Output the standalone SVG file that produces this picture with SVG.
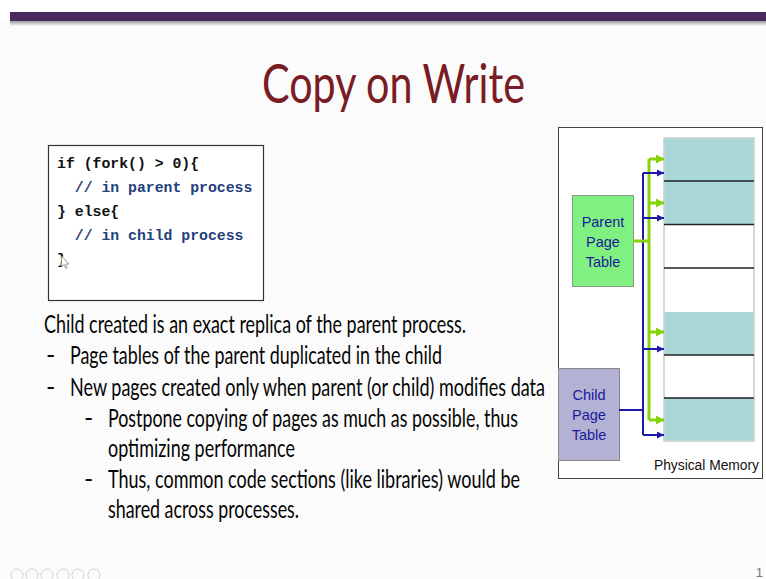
<svg xmlns="http://www.w3.org/2000/svg" width="766" height="579" viewBox="0 0 766 579">
  <style>
    .body { font-family: Lato, "Open Sans", sans-serif; font-size: 25px; fill: #050505; }
    .code { font-family: "Liberation Mono", "DejaVu Sans Mono", monospace; font-size: 14.8px; font-weight: bold; fill: #111; white-space: pre; }
    .cmt { fill: #23407a; }
    .lbl { font-family: "Liberation Sans", Arial, sans-serif; font-size: 14.5px; fill: #1a1a9a; text-anchor: middle; }
    .cell { stroke: none; }
    .teal { fill: #a9d7d7; }
    .div { stroke: #222; stroke-width: 1.5; }
    .g { stroke: #86d30b; stroke-width: 3; fill: none; }
    .b { stroke: #1a1aa6; stroke-width: 2; fill: none; }
    .nav { fill: none; stroke: #d2d2d2; stroke-width: 1; }
  </style>
  <defs>
    <linearGradient id="shade" x1="0" y1="0" x2="0" y2="1">
      <stop offset="0" stop-color="#9a9a9a"/>
      <stop offset="1" stop-color="#fbfbfb"/>
    </linearGradient>
    <marker id="ag" markerUnits="userSpaceOnUse" markerWidth="8" markerHeight="9" refX="8" refY="4.5" orient="auto">
      <path d="M0,0 L8,4.5 L0,9 Z" fill="#86d30b"/>
    </marker>
    <marker id="ab" markerUnits="userSpaceOnUse" markerWidth="7" markerHeight="7" refX="7" refY="3.5" orient="auto">
      <path d="M0,0 L7,3.5 L0,7 Z" fill="#1a1aa6"/>
    </marker>
  </defs>

  <!-- page background and header band -->
  <rect x="0" y="0" width="766" height="579" fill="#ffffff"/>
  <rect x="0" y="21" width="766" height="558" fill="#fbfbfb"/>
  <rect x="10" y="21" width="756" height="5" fill="url(#shade)"/>
  <rect x="10" y="12" width="756" height="9" fill="#482b5e"/>

  <!-- title -->
  <text x="262" y="103" font-family="Lato, 'Open Sans', sans-serif" font-size="55" fill="#7a1c24" textLength="263" lengthAdjust="spacingAndGlyphs">Copy on Write</text>

  <!-- code sample -->
  <g id="code-box">
    <rect x="48.5" y="145.5" width="215" height="155" fill="#ffffff" stroke="#333" stroke-width="1.2"/>
    <text class="code" x="57" y="168">if (fork() &gt; 0){</text>
    <text class="code cmt" x="57" y="192">  // in parent process</text>
    <text class="code" x="57" y="216">} else{</text>
    <text class="code cmt" x="57" y="240">  // in child process</text>
    <text class="code" x="57" y="264">}</text>
    <!-- pointer -->
    <path d="M61.5,256 L61.5,267 L64,264.5 L65.8,268.5 L67.3,267.8 L65.6,264 L69,264 Z" fill="#ffffff" stroke="#888" stroke-width="0.8"/>
  </g>

  <!-- bullet text -->
  <g id="notes">
    <text class="body" x="44" y="333" textLength="422" lengthAdjust="spacingAndGlyphs">Child created is an exact replica of the parent process.</text>
    <text class="body" x="46" y="364">-</text>
    <text class="body" x="70" y="364" textLength="372" lengthAdjust="spacingAndGlyphs">Page tables of the parent duplicated in the child</text>
    <text class="body" x="46" y="396">-</text>
    <text class="body" x="70" y="396" textLength="475" lengthAdjust="spacingAndGlyphs">New pages created only when parent (or child) modifies data</text>
    <text class="body" x="84" y="427">-</text>
    <text class="body" x="108" y="427" textLength="410" lengthAdjust="spacingAndGlyphs">Postpone copying of pages as much as possible, thus</text>
    <text class="body" x="108" y="457" textLength="187" lengthAdjust="spacingAndGlyphs">optimizing performance</text>
    <text class="body" x="84" y="488">-</text>
    <text class="body" x="108" y="488" textLength="412" lengthAdjust="spacingAndGlyphs">Thus, common code sections (like libraries) would be</text>
    <text class="body" x="108" y="518" textLength="191" lengthAdjust="spacingAndGlyphs">shared across processes.</text>
  </g>

  <!-- memory figure frame -->
  <g id="figure-frame">
    <rect x="558.5" y="127.5" width="204" height="351" fill="#ffffff" stroke="#444" stroke-width="1"/>
    <text x="654" y="470" font-family="'Liberation Sans Narrow', 'Liberation Sans', Arial, sans-serif" font-size="14" fill="#111" textLength="105" lengthAdjust="spacingAndGlyphs">Physical Memory</text>
  </g>

  <!-- physical memory frames -->
  <g id="physical-memory">
    <rect x="664" y="138" width="90" height="303" fill="#ffffff" stroke="#b0b0b0" stroke-width="1"/>
    <rect class="cell teal" x="664.5" y="138.5" width="89" height="86"/>
    <rect class="cell teal" x="664.5" y="312" width="89" height="43"/>
    <rect class="cell teal" x="664.5" y="398" width="89" height="42.5"/>
    <line class="div" x1="664" y1="181" x2="754" y2="181"/>
    <line class="div" x1="664" y1="224.5" x2="754" y2="224.5"/>
    <line class="div" x1="664" y1="268" x2="754" y2="268"/>
    <line class="div" x1="664" y1="355" x2="754" y2="355"/>
    <line class="div" x1="664" y1="398" x2="754" y2="398"/>
  </g>

  <!-- page tables -->
  <g id="parent-page-table">
    <rect x="572.5" y="195.5" width="61" height="91" fill="#80f080" stroke="#8a9a8a" stroke-width="1"/>
    <text class="lbl" y="227"><tspan x="603">Parent</tspan><tspan x="603" dy="20">Page</tspan><tspan x="603" dy="20">Table</tspan></text>
  </g>
  <g id="child-page-table">
    <rect x="558.5" y="368.5" width="61" height="92" fill="#b4b2d4" stroke="#888" stroke-width="1"/>
    <text class="lbl" y="400"><tspan x="589">Child</tspan><tspan x="589" dy="20">Page</tspan><tspan x="589" dy="20">Table</tspan></text>
  </g>

  <!-- mappings from page tables to frames -->
  <g id="connectors">
    <path class="b" d="M619,410 H643 M643,173 V435"/>
    <path class="g" d="M633,241 H649 M649,159 V420"/>
    <path class="g" d="M649,159 H664" marker-end="url(#ag)"/>
    <path class="g" d="M649,203 H664" marker-end="url(#ag)"/>
    <path class="g" d="M649,332 H664" marker-end="url(#ag)"/>
    <path class="g" d="M649,420 H664" marker-end="url(#ag)"/>
    <path class="b" d="M643,173 H664" marker-end="url(#ab)"/>
    <path class="b" d="M643,218 H664" marker-end="url(#ab)"/>
    <path class="b" d="M643,349 H664" marker-end="url(#ab)"/>
    <path class="b" d="M643,435 H664" marker-end="url(#ab)"/>
  </g>

  <!-- slide navigation controls and page number -->
  <g id="nav-controls">
    <circle class="nav" cx="17" cy="575" r="6"/>
    <circle class="nav" cx="32" cy="575" r="6"/>
    <circle class="nav" cx="47" cy="575" r="6"/>
    <circle class="nav" cx="63" cy="575" r="6"/>
    <circle class="nav" cx="78" cy="575" r="6"/>
    <circle class="nav" cx="94" cy="575" r="6"/>
  </g>
  <text x="763" y="577" font-family="'Liberation Sans', Arial, sans-serif" font-size="13" fill="#777" text-anchor="end">1</text>
</svg>
